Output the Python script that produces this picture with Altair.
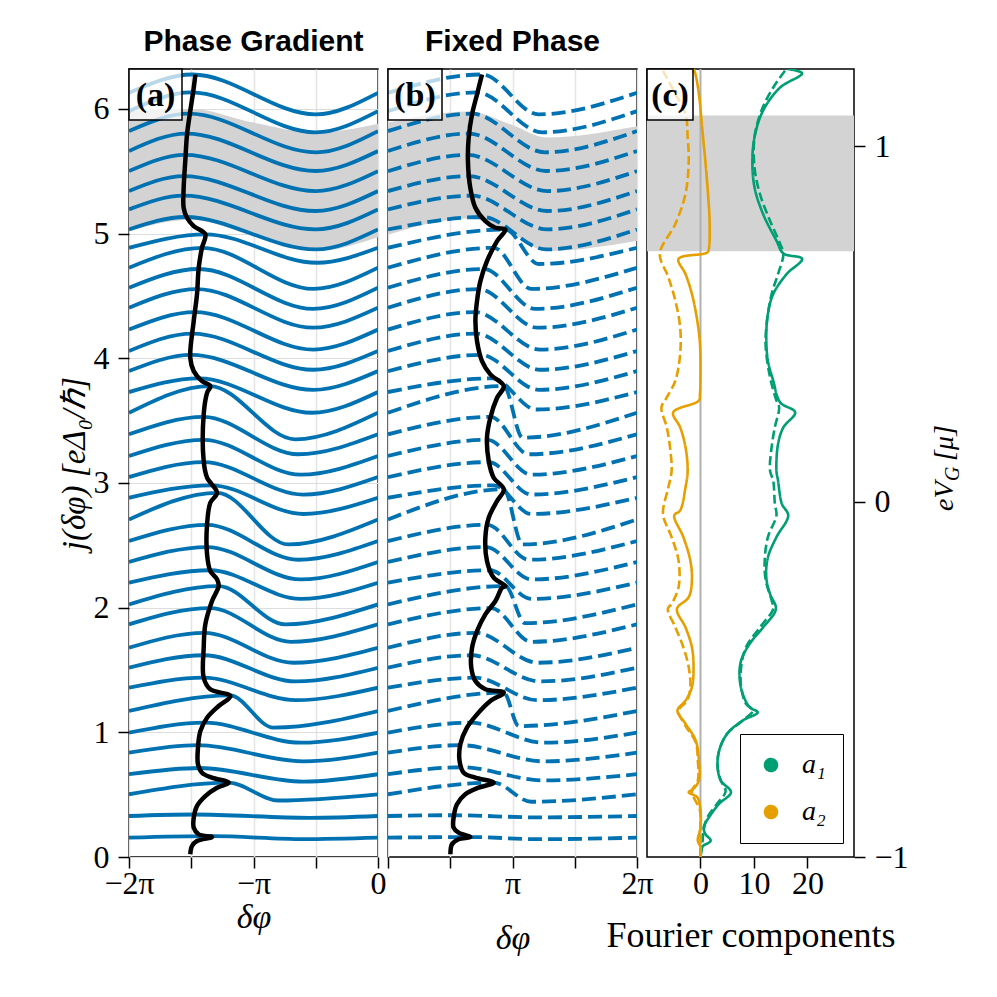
import altair as alt
import pandas as pd
import numpy as np

PI = np.pi

# ---------------- panel texts ----------------
panel_titles = ["Phase Gradient", "Fixed Phase"]
panel_tags = ["(a)", "(b)", "(c)"]
components = ["a\u2081", "a\u2082"]
right_title_parts = ["eV", "G", "[\u03bc]"]

# ---------------- curve family (x in units of pi) ----------------
curve_base = [0.155, 0.329, 0.503, 0.664, 0.837, 0.997, 1.171, 1.358, 1.518, 1.678,
              1.866, 2.026, 2.200, 2.366, 2.534, 2.707, 2.881, 3.047, 3.216, 3.390,
              3.563, 3.729, 3.897, 4.058, 4.230, 4.405, 4.566, 4.726, 4.886, 5.033,
              5.194, 5.341, 5.501, 5.662, 5.822, 5.982, 6.129]

grad_peak_x = [-1.33, -1.48, -1.20, -1.43, -1.446, -1.39, -1.19, -1.40, -1.40, -1.395,
               -1.35, -1.28, -1.35, -1.373, -1.373, -1.29, -1.34, -1.40, -1.40, -1.40,
               -1.35, -1.44, -1.50, -1.49, -1.47, -1.455, -1.44, -1.41, -1.387, -1.55,
               -1.56, -1.56, -1.55, -1.54, -1.52, -1.50, -1.49]
grad_peak_y = [0.167, 0.341, 0.596, 0.714, 0.897, 1.077, 1.296, 1.438, 1.618, 1.798,
               1.996, 2.173, 2.300, 2.486, 2.664, 2.921, 2.981, 3.167, 3.346, 3.530,
               3.777, 3.839, 4.027, 4.198, 4.370, 4.555, 4.716, 4.886, 4.994, 5.133,
               5.304, 5.461, 5.631, 5.802, 5.962, 6.132, 6.276]
grad_dip_x = [-0.60, -0.55, -0.80, -0.60, -0.60, -0.62, -0.84, -0.66, -0.66, -0.68,
              -0.70, -0.745, -0.62, -0.62, -0.64, -0.72, -0.60, -0.60, -0.62, -0.64,
              -0.664, -0.53, -0.52, -0.52, -0.52, -0.52, -0.52, -0.52, -0.49, -0.50,
              -0.50, -0.50, -0.50, -0.50, -0.50, -0.50, -0.50]
grad_dip_y = [0.143, 0.314, 0.453, 0.604, 0.767, 0.917, 1.037, 1.258, 1.408, 1.558,
              1.726, 1.866, 2.070, 2.226, 2.384, 2.507, 2.751, 2.907, 3.066, 3.230,
              3.350, 3.563, 3.747, 3.908, 4.070, 4.245, 4.396, 4.556, 4.766, 4.873,
              5.034, 5.181, 5.341, 5.502, 5.652, 5.812, 5.956]

fixed_peak_x = [0.661, 0.527, 0.849, 0.59, 0.58, 0.66, 0.93, 0.70, 0.67, 0.71,
                0.83, 0.943, 0.82, 0.79, 0.80, 0.93, 0.85, 0.81, 0.80, 0.825,
                0.93, 0.84, 0.745, 0.71, 0.70, 0.73, 0.77, 0.85, 0.943, 0.76,
                0.675, 0.65, 0.642, 0.65, 0.675, 0.715, 0.755]
fixed_peak_y = [0.160, 0.335, 0.596, 0.720, 0.897, 1.077, 1.318, 1.438, 1.618, 1.798,
                1.996, 2.173, 2.300, 2.486, 2.664, 2.949, 2.981, 3.167, 3.346, 3.530,
                3.777, 3.839, 4.027, 4.198, 4.370, 4.555, 4.716, 4.886, 5.033, 5.133,
                5.304, 5.461, 5.631, 5.802, 5.962, 6.132, 6.276]
fixed_dip_x = [1.20, 1.20, 1.15, 1.25, 1.25, 1.25, 1.05, 1.20, 1.22, 1.20,
               1.15, 1.10, 1.15, 1.15, 1.13, 1.08, 1.15, 1.15, 1.15, 1.13,
               1.08, 1.19, 1.21, 1.22, 1.22, 1.20, 1.18, 1.15, 1.21, 1.27,
               1.28, 1.28, 1.28, 1.27, 1.26, 1.24, 1.21]
fixed_dip_y = [0.143, 0.318, 0.443, 0.614, 0.767, 0.917, 1.050, 1.258, 1.408, 1.558,
               1.726, 1.876, 2.070, 2.226, 2.384, 2.507, 2.751, 2.907, 3.066, 3.230,
               3.363, 3.589, 3.747, 3.908, 4.070, 4.245, 4.396, 4.556, 4.756, 4.873,
               5.034, 5.181, 5.341, 5.502, 5.652, 5.812, 5.956]

# ---------------- ridge (maximum locus), x in units of pi ----------------
grad_ridge_x = [-1.508, -1.494, -1.454, -1.333, -1.440, -1.480, -1.480, -1.454, -1.387, -1.293,
                -1.199, -1.333, -1.414, -1.446, -1.446, -1.427, -1.373, -1.280, -1.186, -1.347,
                -1.400, -1.400, -1.387, -1.333, -1.280, -1.293, -1.347, -1.373, -1.373, -1.347,
                -1.293, -1.373, -1.400, -1.400, -1.373, -1.347, -1.414, -1.480, -1.508, -1.480,
                -1.454, -1.440, -1.414, -1.387, -1.480, -1.534, -1.561, -1.561, -1.548, -1.534,
                -1.508, -1.480, -1.467]
grad_ridge_y = [0.022, 0.088, 0.128, 0.160, 0.182, 0.235, 0.315, 0.409, 0.489, 0.556,
                0.596, 0.636, 0.676, 0.743, 0.877, 1.010, 1.117, 1.211, 1.291, 1.345,
                1.438, 1.678, 1.866, 2.053, 2.173, 2.227, 2.294, 2.427, 2.668, 2.841,
                2.921, 3.042, 3.176, 3.550, 3.723, 3.777, 3.817, 3.897, 4.004, 4.298,
                4.512, 4.726, 4.886, 4.994, 5.060, 5.127, 5.207, 5.367, 5.581, 5.795,
                5.982, 6.169, 6.276]

fixed_ridge_x = [0.501, 0.514, 0.567, 0.661, 0.567, 0.527, 0.527, 0.554, 0.621, 0.728,
                 0.849, 0.702, 0.608, 0.575, 0.581, 0.634, 0.715, 0.822, 0.930, 0.782,
                 0.702, 0.669, 0.675, 0.715, 0.782, 0.863, 0.916, 0.943, 0.849, 0.795,
                 0.782, 0.809, 0.876, 0.930, 0.849, 0.809, 0.795, 0.822, 0.876, 0.930,
                 0.822, 0.755, 0.715, 0.702, 0.715, 0.742, 0.795, 0.876, 0.943, 0.863,
                 0.782, 0.702, 0.661, 0.642, 0.648, 0.675, 0.715, 0.755]
fixed_ridge_y = [0.022, 0.102, 0.142, 0.160, 0.195, 0.235, 0.315, 0.423, 0.503, 0.556,
                 0.596, 0.636, 0.676, 0.770, 0.904, 1.037, 1.144, 1.251, 1.318, 1.345,
                 1.411, 1.518, 1.678, 1.812, 1.946, 2.053, 2.160, 2.173, 2.240, 2.374,
                 2.561, 2.721, 2.855, 2.949, 3.042, 3.176, 3.363, 3.523, 3.683, 3.777,
                 3.871, 3.978, 4.138, 4.298, 4.459, 4.619, 4.779, 4.940, 5.033, 5.047,
                 5.100, 5.207, 5.367, 5.581, 5.768, 5.956, 6.116, 6.276]

# ---------------- shaded bands ----------------
band_grad_x = [-2.0, -1.5, -1.0, -0.5, 0.0]
band_grad_top = [5.98, 6.00, 5.89, 5.81, 5.88]
band_grad_bot = [5.02, 5.11, 4.98, 4.86, 4.97]
band_fixed_x = [0.0, 0.65, 1.0, 1.27, 2.0]
band_fixed_top = [5.89, 5.98, 5.87, 5.77, 5.86]
band_fixed_bot = [4.99, 5.12, 5.00, 4.86, 4.94]
fourier_band = [0.704, 1.086]

# ---------------- Fourier components vs eV_G ----------------
a1_solid_ev = [1.217, 1.205, 1.165, 1.100, 1.025, 0.959, 0.884, 0.809, 0.734, 0.698, 0.683,
               0.640, 0.584, 0.528, 0.462, 0.397, 0.340, 0.279, 0.251, 0.209, 0.162, 0.087,
               0.059, -0.006, -0.039, -0.100, -0.157, -0.213, -0.260, -0.302, -0.354, -0.400,
               -0.447, -0.494, -0.541, -0.579, -0.593, -0.616, -0.653, -0.700, -0.747, -0.785,
               -0.818, -0.850, -0.888, -0.916, -0.935, -0.954, -0.972, -1.0]
a1_solid_x = [16.3, 19.0, 14.9, 11.7, 10.1, 9.7, 10.1, 11.7, 14.2, 15.5, 19.0,
              16.1, 13.6, 12.6, 12.3, 12.6, 13.6, 14.9, 17.7, 15.5, 14.5, 14.2,
              14.5, 15.2, 16.4, 14.2, 12.6, 12.3, 13.0, 14.1, 11.7, 9.2,
              7.6, 7.3, 7.9, 9.2, 10.7, 7.9, 5.0, 3.5, 3.2, 3.8,
              5.7, 3.5, 1.6, 0.6, 0.9, 1.9, 0.3, 0.0]
a1_dash_ev = [1.212, 1.165, 1.100, 1.025, 0.940, 0.866, 0.790, 0.725, 0.697, 0.640, 0.584,
              0.490, 0.434, 0.350, 0.284, 0.265, 0.209, 0.153, 0.087, 0.059, -0.006, -0.039,
              -0.100, -0.166, -0.222, -0.278, -0.302, -0.354, -0.410, -0.466, -0.522, -0.569,
              -0.588, -0.616, -0.653, -0.700, -0.747, -0.785, -0.815, -0.850, -0.888, -0.925,
              -0.972, -1.0]
a1_dash_x = [15.8, 13.6, 11.4, 10.1, 10.1, 11.1, 13.0, 14.9, 15.5, 14.5, 13.3,
             12.3, 12.2, 13.0, 14.2, 14.7, 13.9, 13.3, 13.0, 13.6, 13.9, 14.2,
             12.6, 12.0, 12.2, 13.3, 13.6, 11.1, 8.5, 7.6, 7.6, 8.5,
             9.8, 7.9, 5.0, 3.5, 3.2, 3.8, 4.7, 3.1, 1.3, 0.6,
             0.3, 0.0]
a2_solid_ev = [1.217, 1.203, 1.147, 1.053, 0.959, 0.866, 0.790, 0.715, 0.701, 0.683, 0.640,
               0.584, 0.509, 0.444, 0.368, 0.303, 0.284, 0.251, 0.209, 0.153, 0.087, 0.040,
               -0.025, -0.039, -0.100, -0.166, -0.222, -0.269, -0.302, -0.354, -0.410, -0.466,
               -0.522, -0.560, -0.588, -0.625, -0.672, -0.728, -0.785, -0.808, -0.818, -0.832,
               -0.869, -0.916, -0.954, -0.972, -1.0]
a2_solid_x = [-1.3, -0.95, -0.3, 0.3, 0.9, 1.4, 1.7, 1.6, 1.3, -4.1, -2.8,
              -1.6, -0.6, -0.1, 0.0, -0.1, -0.3, -5.1, -3.8, -2.8, -2.4, -2.8,
              -3.8, -4.9, -3.2, -1.9, -1.6, -2.2, -4.4, -2.8, -1.6, -1.3,
              -1.6, -2.8, -4.3, -2.8, -0.9, -0.3, -0.3, -1.3, -2.2, -0.6,
              0.0, 0.0, -0.5, 0.0, 0.0]
a2_dash_ev = [1.212, 1.147, 1.091, 1.025, 0.959, 0.866, 0.781, 0.697, 0.631, 0.565, 0.490,
              0.415, 0.340, 0.293, 0.265, 0.209, 0.153, 0.087, 0.040, -0.035, -0.100, -0.166,
              -0.241, -0.288, -0.302, -0.354, -0.410, -0.466, -0.522, -0.560, -0.588, -0.631,
              -0.677, -0.728, -0.785, -0.815, -0.869, -0.916, -1.0]
a2_dash_x = [-7.0, -4.7, -2.8, -2.4, -2.2, -2.8, -4.7, -7.6, -6.0, -4.7, -3.8,
             -3.8, -4.7, -6.3, -7.3, -6.3, -5.7, -5.4, -6.0, -7.0, -5.4, -4.1,
             -4.1, -5.4, -6.1, -4.7, -3.2, -2.2, -1.9, -2.5, -4.1, -2.8,
             -0.9, -0.5, -0.5, -1.6, -0.1, 0.0, 0.0]

# ---------------- styles ----------------
BLUE = "#0072B2"
GREEN = "#009E73"
ORANGE = "#E69F00"
BAND = "#d3d3d3"
SERIF = "Liberation Serif"
W_AB, W_C, H = 249, 207, 788


def ring(r):
    return "M{0},0a{1},{1} 0 1,0 {2},0a{1},{1} 0 1,0 {3},0".format(-r, r, 2 * r, -2 * r)


# closely spaced concentric rings that read as a filled dot when stroked
DOT_PATH = " ".join(ring(r) for r in [1.0, 0.86, 0.72, 0.58, 0.44, 0.30, 0.16, 0.04])


def family(peak_x, peak_y, dip_x, dip_y, left, right):
    rows = []
    for k, b in enumerate(curve_base):
        pts = [(left, b), (peak_x[k], peak_y[k]), (dip_x[k], dip_y[k]), (right, b)]
        for i, (x, y) in enumerate(pts):
            rows.append({"k": k, "i": i, "x": x * PI, "y": y})
    return pd.DataFrame(rows)


def ridge(xs, ys):
    return pd.DataFrame({"i": range(len(xs)), "x": [v * PI for v in xs], "y": ys})


def band(xs, top, bot):
    return pd.DataFrame({"x": [v * PI for v in xs], "top": top, "bot": bot})


y_scale = alt.Scale(domain=[0, 6.32], nice=False, zero=False)


def phase_panel(df, ridge_df, band_df, dom, tick_vals, label_expr, tag, tag_w,
                title, dashed, show_y, x_title_pad):
    xs = alt.Scale(domain=dom, nice=False, zero=False)
    xax = alt.Axis(values=tick_vals, labelExpr=label_expr, grid=True, gridColor="#e4e4e4",
                   gridWidth=1.5, title="\u03b4\u03c6", titleFontStyle="italic",
                   labelFlush=False, labelOverlap=False, labelPadding=0,
                   titlePadding=x_title_pad)
    if show_y:
        yax = alt.Axis(values=[0, 1, 2, 3, 4, 5, 6], title="j(\u03b4\u03c6) [e\u0394\u2080/\u210f]",
                       titleFontStyle="italic", titleFontSize=33, labelPadding=9,
                       titlePadding=2)
    else:
        yax = None
    X = lambda f: alt.X(f, scale=xs, axis=xax)
    Y = lambda f: alt.Y(f, scale=y_scale, axis=yax)

    band_l = alt.Chart(band_df).mark_area(color=BAND, interpolate="monotone").encode(
        x=X("x:Q"), y=Y("top:Q"), y2="bot:Q")
    line_kw = dict(color=BLUE, strokeWidth=3.8, interpolate="monotone", clip=True)
    if dashed:
        line_kw["strokeDash"] = [14, 6]
    lines = alt.Chart(df).mark_line(**line_kw).encode(
        x=X("x:Q"), y=Y("y:Q"), detail="k:N", order="i:Q")
    rid = alt.Chart(ridge_df).mark_line(color="black", strokeWidth=4.5,
                                        interpolate="catmull-rom", clip=True).encode(
        x=X("x:Q"), y=Y("y:Q"), order="i:Q")
    tdf = pd.DataFrame({"tag": [tag]})
    box = alt.Chart(tdf).mark_rect(fill="white", fillOpacity=0.72, stroke="black",
                                   strokeWidth=1.5).encode(
        x=alt.value(0), x2=alt.value(tag_w), y=alt.value(0), y2=alt.value(51))
    txt = alt.Chart(tdf).mark_text(font=SERIF, fontWeight="bold", fontSize=34,
                                   color="black").encode(
        x=alt.value(tag_w / 2), y=alt.value(27), text="tag:N")
    return alt.layer(band_l, lines, rid, box, txt).properties(
        width=W_AB, height=H, title=title)


expr_a = ("abs(datum.value + 2*PI) < 0.01 ? '\u22122\u03c0' : "
          "(abs(datum.value + PI) < 0.01 ? '\u2212\u03c0' : "
          "(abs(datum.value) < 0.01 ? '0' : ''))")
expr_b = ("abs(datum.value - PI) < 0.01 ? '\u03c0' : "
          "(abs(datum.value - 2*PI) < 0.01 ? '2\u03c0' : '')")

pa = phase_panel(family(grad_peak_x, grad_peak_y, grad_dip_x, grad_dip_y, -2.0, 0.0),
                 ridge(grad_ridge_x, grad_ridge_y),
                 band(band_grad_x, band_grad_top, band_grad_bot),
                 [-2 * PI, 0], [-2 * PI, -1.5 * PI, -PI, -0.5 * PI, 0], expr_a,
                 panel_tags[0], 53, panel_titles[0], False, True, 1)
pb = phase_panel(family(fixed_peak_x, fixed_peak_y, fixed_dip_x, fixed_dip_y, 0.0, 2.0),
                 ridge(fixed_ridge_x, fixed_ridge_y),
                 band(band_fixed_x, band_fixed_top, band_fixed_bot),
                 [0, 2 * PI], [0, 0.5 * PI, PI, 1.5 * PI, 2 * PI], expr_b,
                 panel_tags[1], 54, panel_titles[1], True, False, 22)

# ---------------- panel (c) ----------------
rows = []
for comp, kind, evs, xs in [(components[0], "solid", a1_solid_ev, a1_solid_x),
                            (components[0], "dashed", a1_dash_ev, a1_dash_x),
                            (components[1], "solid", a2_solid_ev, a2_solid_x),
                            (components[1], "dashed", a2_dash_ev, a2_dash_x)]:
    for i, (e, v) in enumerate(zip(evs, xs)):
        rows.append({"comp": comp, "kind": kind, "series": comp + kind, "i": i,
                     "ev": e, "val": v})
df_c = pd.DataFrame(rows)

xs_c = alt.Scale(domain=[-10, 28.7], nice=False, zero=False)
ys_c = alt.Scale(domain=[-1, 1.217], nice=False, zero=False)
xax_c = alt.Axis(values=[0, 10, 20], title="Fourier components", titleFontSize=36,
                 labelFlush=False, labelOverlap=False, labelPadding=0, titlePadding=19,
                 grid=False)
yax_c = alt.Axis(orient="right", values=[-1, 0, 1], title=None, labelPadding=9, grid=False)
cscale = alt.Scale(domain=components, range=[GREEN, ORANGE])

band_c = alt.Chart(pd.DataFrame({"lo": [fourier_band[0]], "hi": [fourier_band[1]]})).mark_rect(
    color=BAND).encode(x=alt.value(0), x2=alt.value(W_C),
                       y=alt.Y("lo:Q", scale=ys_c, axis=yax_c), y2="hi:Q")
zero_rule = alt.Chart(pd.DataFrame({"z": [0]})).mark_rule(color="#b0b0b0", strokeWidth=2).encode(
    x=alt.X("z:Q", scale=xs_c, axis=xax_c))
lines_c = alt.Chart(df_c).mark_line(interpolate="catmull-rom", clip=True).encode(
    x=alt.X("val:Q", scale=xs_c, axis=xax_c),
    y=alt.Y("ev:Q", scale=ys_c, axis=yax_c),
    color=alt.Color("comp:N", scale=cscale,
                    legend=alt.Legend(title=None, orient="none", legendX=93, legendY=665,
                                      fillColor="white", strokeColor="black", padding=17,
                                      symbolType=DOT_PATH, symbolSize=144,
                                      symbolStrokeWidth=2.5,
                                      symbolOpacity=1, symbolDash=[1, 0],
                                      labelFont=SERIF, labelFontStyle="italic",
                                      labelFontSize=28, labelOffset=17, rowPadding=19,
                                      labelColor="black")),
    strokeDash=alt.StrokeDash("kind:N", scale=alt.Scale(domain=["solid", "dashed"],
                                                        range=[[1, 0], [9, 4]]), legend=None),
    strokeWidth=alt.value(2.6),
    detail="series:N", order="i:Q")
tdf_c = pd.DataFrame({"tag": [panel_tags[2]]})
box_c = alt.Chart(tdf_c).mark_rect(fill="white", fillOpacity=0.72, stroke="black",
                                   strokeWidth=1.5).encode(
    x=alt.value(0), x2=alt.value(46), y=alt.value(0), y2=alt.value(51))
txt_c = alt.Chart(tdf_c).mark_text(font=SERIF, fontWeight="bold", fontSize=34,
                                   color="black").encode(
    x=alt.value(23), y=alt.value(27), text="tag:N")

title_layers = []
for part, xpos, ypos, fs in [(right_title_parts[0], 306, 442, 28),
                             (right_title_parts[1], 312, 412, 20),
                             (right_title_parts[2], 306, 392, 28)]:
    title_layers.append(
        alt.Chart(pd.DataFrame({"t": [part]})).mark_text(
            font=SERIF, fontStyle="italic", fontSize=fs, angle=270, align="left",
            baseline="alphabetic", color="black").encode(
            x=alt.value(xpos), y=alt.value(ypos), text="t:N"))

pc = alt.layer(band_c, zero_rule, lines_c, box_c, txt_c, *title_layers).properties(
    width=W_C, height=H)

chart = alt.hconcat(pa, pb, pc, spacing=10, bounds="flush").resolve_scale(
    color="independent", strokeDash="independent").resolve_legend(
    color="independent").properties(
    padding={"left": 49, "top": 18, "right": 5, "bottom": 5},
    background="white").configure_view(
    stroke="black", strokeWidth=1.5).configure_axis(
    domain=False, tickColor="black", tickWidth=1.5, tickSize=11,
    labelFont=SERIF, labelFontSize=32, labelColor="black",
    titleFont=SERIF, titleFontSize=34, titleFontWeight="normal", titleColor="black").configure_title(
    font="Liberation Sans", fontSize=30, fontWeight="bold", anchor="middle", offset=11,
    baseline="alphabetic", color="black")

chart.save("out.html", embed_options={"renderer": "svg", "actions": False})
